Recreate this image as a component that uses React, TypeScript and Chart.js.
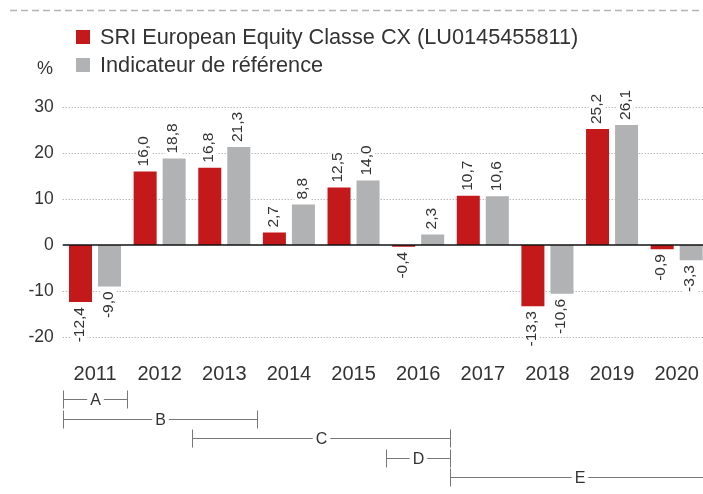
import React, { useEffect, useRef } from "react";
import { Chart, registerables } from "chart.js";

Chart.register(...registerables);

const categories = ["2011", "2012", "2013", "2014", "2015", "2016", "2017", "2018", "2019", "2020"];
const fundLabel = "SRI European Equity Classe CX (LU0145455811)";
const benchLabel = "Indicateur de référence";
const fundValues = [-12.4, 16.0, 16.8, 2.7, 12.5, -0.4, 10.7, -13.3, 25.2, -0.9];
const benchValues = [-9.0, 18.8, 21.3, 8.8, 14.0, 2.3, 10.6, -10.6, 26.1, -3.3];
const yTicks = [-20, -10, 0, 10, 20, 30];
const unitLabel = "%";
const periodLabels = ["A", "B", "C", "D", "E"];
const periodStart = [0, 0, 2, 5, 6];
const periodEnd = [0, 2, 5, 5, 9];

const FONT = "'Liberation Sans', Arial, Helvetica, sans-serif";
const RED = "#c3191b";
const GREY = "#b1b2b4";
const TEXT = "#333333";

const overlayPlugin = {
  id: "overlay",
  beforeDatasetsDraw(chart: any) {
    const { ctx, chartArea } = chart;
    const y = chart.scales.y;
    ctx.save();
    // top dashed line
    ctx.strokeStyle = "#b5b5b5";
    ctx.lineWidth = 1.5;
    ctx.setLineDash([7, 4]);
    ctx.beginPath();
    ctx.moveTo(10, 10.5);
    ctx.lineTo(chart.width, 10.5);
    ctx.stroke();
    // dotted grid
    ctx.strokeStyle = "#9a9a9a";
    ctx.lineWidth = 1;
    ctx.setLineDash([1, 2]);
    yTicks.forEach((v) => {
      if (v === 0) return;
      const py = Math.round(y.getPixelForValue(v)) + 0.5;
      ctx.beginPath();
      ctx.moveTo(chartArea.left, py);
      ctx.lineTo(chartArea.right, py);
      ctx.stroke();
    });
    ctx.restore();
  },
  afterDatasetsDraw(chart: any) {
    const { ctx, chartArea } = chart;
    const y = chart.scales.y;
    const x = chart.scales.x;
    ctx.save();
    // zero line
    const zy = y.getPixelForValue(0);
    ctx.strokeStyle = "#111";
    ctx.lineWidth = 1.4;
    ctx.setLineDash([]);
    ctx.beginPath();
    ctx.moveTo(chartArea.left, zy);
    ctx.lineTo(chartArea.right, zy);
    ctx.stroke();

    // data labels
    ctx.font = `15.5px ${FONT}`;
    ctx.textBaseline = "middle";
    chart.data.datasets.forEach((ds: any, di: number) => {
      const meta = chart.getDatasetMeta(di);
      meta.data.forEach((bar: any, i: number) => {
        const v = ds.data[i];
        const txt = v.toFixed(1).replace(".", ",");
        const w = ctx.measureText(txt).width;
        const bx = bar.x - 1;
        ctx.save();
        if (v >= 0) {
          ctx.translate(bx, Math.min(bar.y, bar.base) - 5);
          ctx.rotate(-Math.PI / 2);
          ctx.fillStyle = "#fff";
          ctx.fillRect(-2, -8, w + 4, 16);
          ctx.fillStyle = TEXT;
          ctx.textAlign = "left";
          ctx.fillText(txt, 0, 0);
        } else {
          ctx.translate(bx, Math.max(bar.y, bar.base) + 5);
          ctx.rotate(-Math.PI / 2);
          ctx.fillStyle = "#fff";
          ctx.fillRect(-w - 2, -8, w + 4, 16);
          ctx.fillStyle = TEXT;
          ctx.textAlign = "right";
          ctx.fillText(txt, 0, 0);
        }
        ctx.restore();
      });
    });

    // legend
    const items = chart.data.datasets.map((d: any) => ({ label: d.label, color: d.backgroundColor }));
    ctx.font = `21.7px ${FONT}`;
    ctx.textAlign = "left";
    ctx.textBaseline = "middle";
    items.forEach((it: any, k: number) => {
      const cy = 37 + k * 28;
      ctx.fillStyle = it.color;
      ctx.fillRect(76, cy - 7, 14, 14);
      ctx.fillStyle = TEXT;
      ctx.fillText(it.label, 100, cy + 1);
    });
    ctx.font = `18px ${FONT}`;
    ctx.fillText(unitLabel, 37, 69);

    // period brackets
    const half = (x.getPixelForValue(1) - x.getPixelForValue(0)) / 2;
    ctx.strokeStyle = "#777";
    ctx.lineWidth = 1;
    ctx.font = `16px ${FONT}`;
    ctx.textAlign = "center";
    ctx.textBaseline = "middle";
    periodLabels.forEach((lab, k) => {
      const x0 = Math.round(x.getPixelForValue(periodStart[k]) - half) + 0.5;
      const x1 = Math.round(x.getPixelForValue(periodEnd[k]) + half) + 0.5;
      const ry = Math.round(399 + k * 19.5) + 0.5;
      const cx = (x0 + x1) / 2;
      const tw = ctx.measureText(lab).width;
      ctx.beginPath();
      ctx.moveTo(x0, ry - 9);
      ctx.lineTo(x0, ry + 9);
      ctx.moveTo(x1, ry - 9);
      ctx.lineTo(x1, ry + 9);
      ctx.moveTo(x0, ry);
      ctx.lineTo(cx - tw / 2 - 3, ry);
      ctx.moveTo(cx + tw / 2 + 3, ry);
      ctx.lineTo(x1, ry);
      ctx.stroke();
      ctx.fillStyle = TEXT;
      ctx.fillText(lab, cx, ry + 1);
    });
    ctx.restore();
  },
};

export default function App() {
  const ref = useRef<HTMLCanvasElement>(null);
  useEffect(() => {
    const canvas = ref.current!;
    const chart = new Chart(canvas, {
      type: "bar",
      data: {
        labels: categories,
        datasets: [
          { label: fundLabel, data: fundValues, backgroundColor: RED, categoryPercentage: 0.898, barPercentage: 0.793 },
          { label: benchLabel, data: benchValues, backgroundColor: GREY, categoryPercentage: 0.898, barPercentage: 0.793 },
        ],
      },
      options: {
        responsive: false,
        animation: false,
        devicePixelRatio: 1,
        layout: { padding: { top: 107, bottom: 104, left: 0, right: 0 } },
        plugins: { legend: { display: false }, tooltip: { enabled: false } },
        scales: {
          x: {
            grid: { display: false, drawTicks: false },
            border: { display: false },
            ticks: { color: TEXT, font: { family: FONT, size: 20 }, padding: 2 },
            afterFit: (s: any) => {
              s.height = 30;
            },
          },
          y: {
            min: -25,
            max: 30,
            afterBuildTicks: (s: any) => {
              s.ticks = yTicks.map((v) => ({ value: v }));
            },
            grid: { display: false, drawTicks: false },
            border: { display: false },
            ticks: { color: TEXT, font: { family: FONT, size: 17.5 }, padding: 9 },
            afterFit: (s: any) => {
              s.width = 62.7;
            },
          },
        },
      },
      plugins: [overlayPlugin],
    });
    return () => chart.destroy();
  }, []);
  return (
    <div style={{ position: "fixed", left: 0, top: 0, width: 703, height: 494, overflow: "hidden", background: "#fff" }}>
      <canvas ref={ref} width={709} height={494} style={{ width: 709, height: 494, display: "block" }} />
    </div>
  );
}
